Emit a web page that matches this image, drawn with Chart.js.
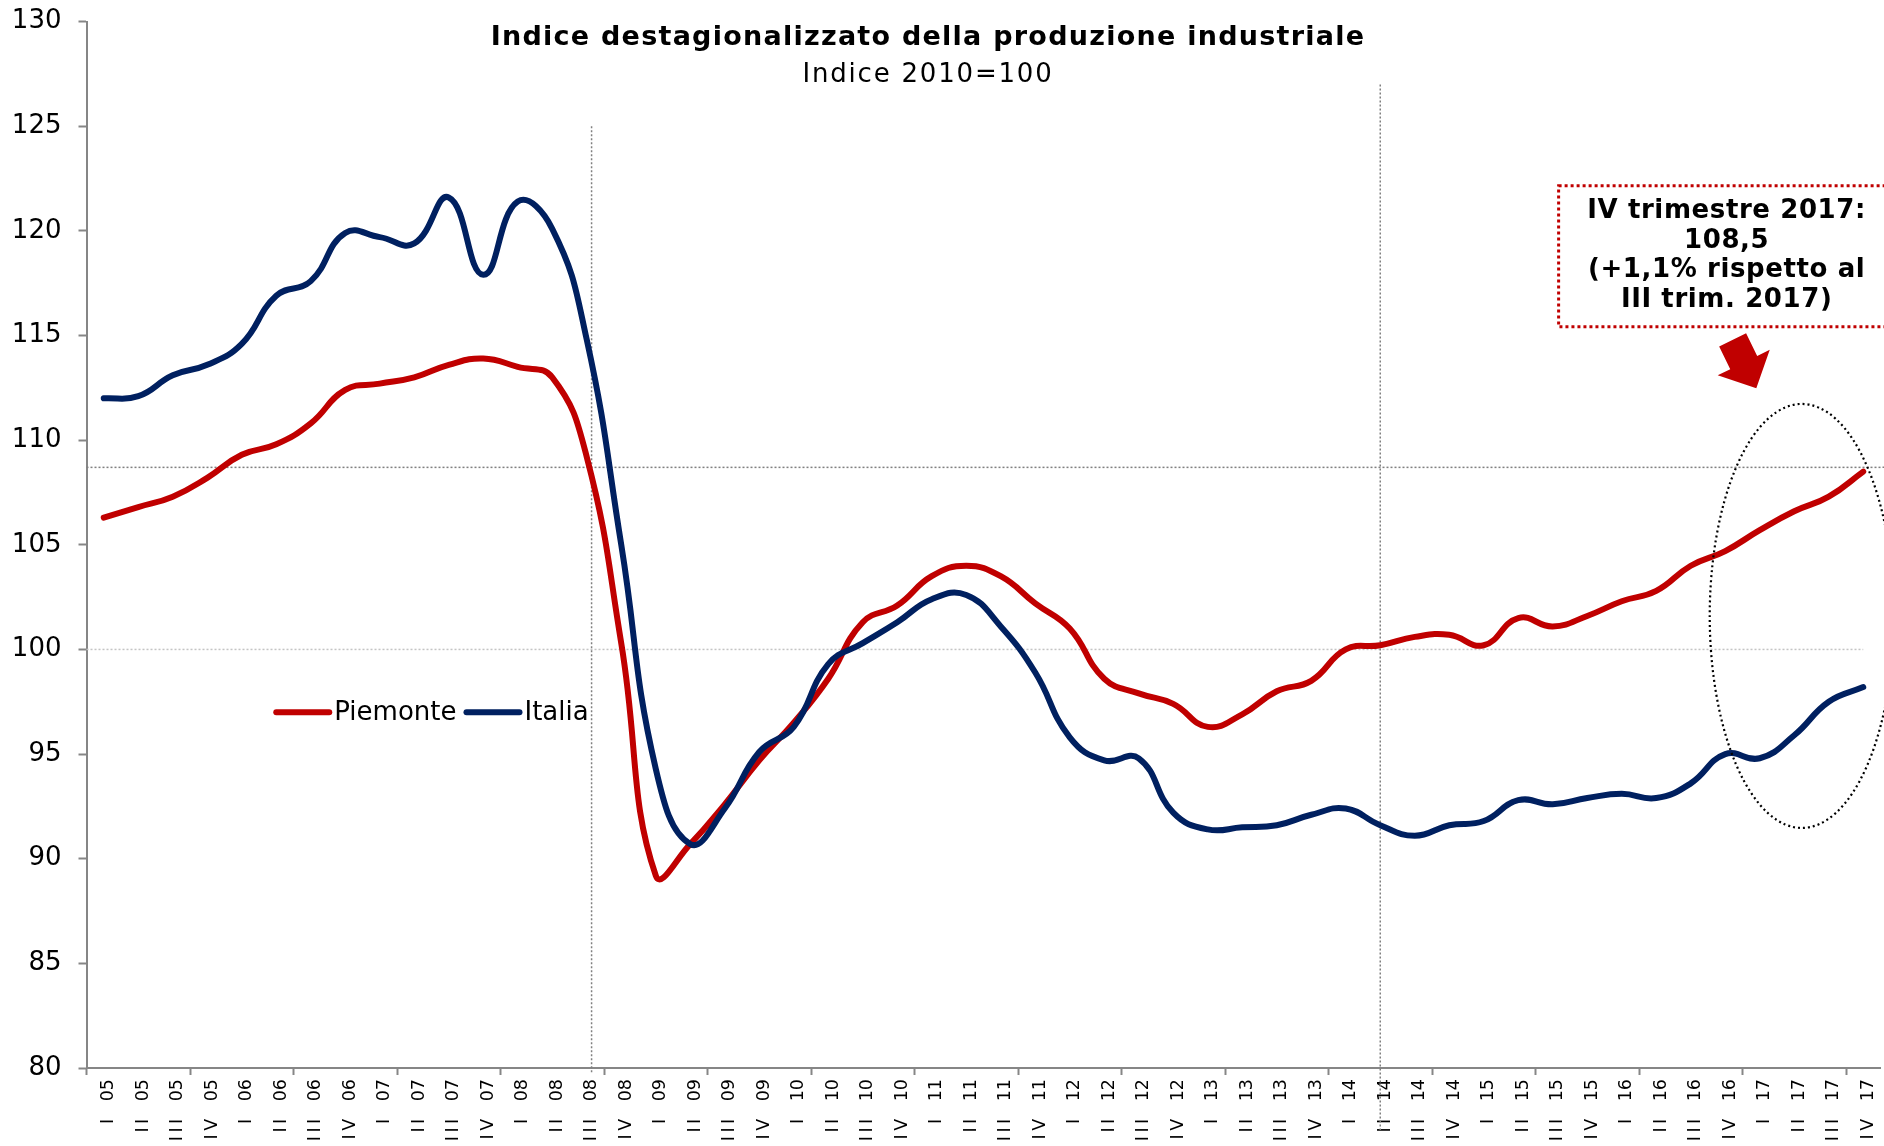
<!DOCTYPE html>
<html>
<head>
<meta charset="utf-8">
<script src="https://cdn.jsdelivr.net/npm/chart.js@4.4.0/dist/chart.umd.min.js"></script>
<style>
  html, body { margin: 0; padding: 0; background: #fff; }
</style>
</head>
<body>
<canvas id="grafico" width="1884" height="1146"></canvas>
<script>
// trimestri dal I 2005 al IV 2017
const trimestri = [
    'I 05', 'II 05', 'III 05', 'IV 05', 'I 06', 'II 06', 'III 06', 'IV 06',
    'I 07', 'II 07', 'III 07', 'IV 07', 'I 08', 'II 08', 'III 08', 'IV 08',
    'I 09', 'II 09', 'III 09', 'IV 09', 'I 10', 'II 10', 'III 10', 'IV 10',
    'I 11', 'II 11', 'III 11', 'IV 11', 'I 12', 'II 12', 'III 12', 'IV 12',
    'I 13', 'II 13', 'III 13', 'IV 13', 'I 14', 'II 14', 'III 14', 'IV 14',
    'I 15', 'II 15', 'III 15', 'IV 15', 'I 16', 'II 16', 'III 16', 'IV 16',
    'I 17', 'II 17', 'III 17', 'IV 17'
];

const piemonte = [
    106.3, 106.8, 107.3, 108.2, 109.3, 109.8, 110.8, 112.4,
    112.7, 113.0, 113.6, 113.9, 113.5, 113.0, 109.2, 100.3,
    89.2, 90.7, 92.6, 94.7, 96.5, 98.6, 101.3, 102.1,
    103.5, 104.0, 103.5, 102.2, 101.0, 98.6, 97.9, 97.4,
    96.3, 96.9, 98.0, 98.5, 100.0, 100.2, 100.6, 100.7,
    100.2, 101.5, 101.1, 101.6, 102.3, 102.8, 104.0, 104.7,
    105.7, 106.6, 107.3, 108.5
];

const italia = [
    112.0, 112.1, 113.1, 113.6, 114.6, 116.9, 117.6, 119.9,
    119.7, 119.4, 121.6, 117.9, 121.4, 120.1, 114.8, 105.0,
    94.3, 90.7, 92.4, 95.1, 96.3, 99.3, 100.3, 101.3,
    102.4, 102.6, 101.1, 98.9, 95.8, 94.7, 94.8, 92.2,
    91.4, 91.5, 91.6, 92.1, 92.4, 91.6, 91.1, 91.6,
    91.8, 92.8, 92.6, 92.9, 93.1, 92.9, 93.6, 95.0,
    94.8, 95.9, 97.5, 98.2
];

const Y_MIN = 80, Y_MAX = 130, Y_STEP = 5;

const titolo = 'Indice destagionalizzato della produzione industriale';
const sottotitolo = 'Indice 2010=100';
const nota = ['IV trimestre 2017:', '108,5', '(+1,1% rispetto al', 'III trim. 2017)'];

const ROSSO = '#C00000';
const BLU = '#002060';
const GRIGIO = '#868686';
const FONT = '"DejaVu Sans"';

Chart.defaults.font.family = FONT;

// posizione in pixel per indice (anche frazionario) di categoria
function xAt(scale, i) {
    const p0 = scale.getPixelForValue(0);
    const p1 = scale.getPixelForValue(1);
    return p0 + i * (p1 - p0);
}

const decorazioni = {
    id: 'decorazioni',
    beforeDatasetsDraw(chart) {
        const {ctx, chartArea: a, scales: {x, y}} = chart;
        ctx.save();
        ctx.lineWidth = 1.5;
        ctx.setLineDash([2, 2]);

        // livello IV 2017
        ctx.strokeStyle = '#808080';
        ctx.beginPath();
        ctx.moveTo(a.left, y.getPixelForValue(108.7));
        ctx.lineTo(chart.width, y.getPixelForValue(108.7));
        ctx.stroke();

        // livello 100
        ctx.strokeStyle = '#c4c4c4';
        ctx.beginPath();
        ctx.moveTo(a.left, y.getPixelForValue(100));
        ctx.lineTo(xAt(x, 51), y.getPixelForValue(100));
        ctx.stroke();

        // verticali
        ctx.strokeStyle = '#808080';
        ctx.beginPath();
        ctx.moveTo(xAt(x, 14.14), y.getPixelForValue(125));
        ctx.lineTo(xAt(x, 14.14), a.bottom + 5);
        ctx.moveTo(xAt(x, 37), y.getPixelForValue(127));
        ctx.lineTo(xAt(x, 37), a.bottom + 62);
        ctx.stroke();
        ctx.restore();
    },
    afterDraw(chart) {
        const {ctx, scales: {x, y}} = chart;
        const step = xAt(x, 1) - xAt(x, 0);
        const unit = y.getPixelForValue(100) - y.getPixelForValue(101);
        ctx.save();

        // titolo
        ctx.fillStyle = '#000';
        ctx.textAlign = 'center';
        ctx.textBaseline = 'alphabetic';
        ctx.font = 'bold 27px ' + FONT;
        ctx.letterSpacing = '1.25px';
        ctx.fillText(titolo, 928, 45);
        ctx.font = '26px ' + FONT;
        ctx.letterSpacing = '1.8px';
        ctx.fillText(sottotitolo, 928, 82);
        ctx.letterSpacing = '0px';

        // ellisse
        ctx.strokeStyle = '#000';
        ctx.lineWidth = 2.2;
        ctx.setLineDash([2, 3]);
        ctx.beginPath();
        ctx.ellipse(xAt(x, 49.22), y.getPixelForValue(101.6), 2.67 * step, 10.13 * unit, 0, 0, Math.PI * 2);
        ctx.stroke();

        // riquadro della nota
        const bx = xAt(x, 42.17);
        const by0 = y.getPixelForValue(122.16);
        const by1 = y.getPixelForValue(115.42);
        ctx.strokeStyle = ROSSO;
        ctx.lineWidth = 3;
        ctx.setLineDash([3, 3]);
        ctx.strokeRect(bx, by0, chart.width + 20 - bx, by1 - by0);
        ctx.setLineDash([]);

        ctx.fillStyle = '#000';
        ctx.font = 'bold 26px ' + FONT;
        ctx.textBaseline = 'middle';
        ctx.letterSpacing = '0.6px';
        const cx = xAt(x, 47.04);
        nota.forEach((riga, k) => ctx.fillText(riga, cx, by0 + 26 + k * 29.5));
        ctx.letterSpacing = '0px';

        // freccia
        const tx = xAt(x, 47.9), ty = y.getPixelForValue(112.48);
        const ang = 63.9 * Math.PI / 180;
        const d = [Math.cos(ang), Math.sin(ang)];
        const n = [d[1], -d[0]];
        const B = [tx - d[0] * 28.6, ty - d[1] * 28.6];
        const S = [B[0] - d[0] * 25.2, B[1] - d[1] * 25.2];
        const pt = (P, k) => [P[0] + n[0] * k, P[1] + n[1] * k];
        const poly = [[tx, ty], pt(B, 29), pt(B, 15), pt(S, 15), pt(S, -15), pt(B, -15), pt(B, -29)];
        ctx.fillStyle = ROSSO;
        ctx.beginPath();
        poly.forEach((p, k) => k ? ctx.lineTo(p[0], p[1]) : ctx.moveTo(p[0], p[1]));
        ctx.closePath();
        ctx.fill();

        // legenda
        let lx = xAt(x, 5);
        const ly = y.getPixelForValue(97);
        ctx.font = '26px ' + FONT;
        ctx.textAlign = 'left';
        ctx.textBaseline = 'middle';
        ctx.lineCap = 'round';
        chart.data.datasets.forEach(ds => {
            ctx.strokeStyle = ds.borderColor;
            ctx.lineWidth = 6;
            ctx.beginPath();
            ctx.moveTo(lx, ly);
            ctx.lineTo(lx + 53, ly);
            ctx.stroke();
            ctx.fillStyle = '#000';
            ctx.fillText(ds.label, lx + 58, ly + 1);
            lx += 58 + ctx.measureText(ds.label).width + 10;
        });
        ctx.restore();
    }
};

new Chart(document.getElementById('grafico'), {
    type: 'line',
    data: {
        labels: trimestri,
        datasets: [
            {
                label: 'Piemonte', data: piemonte, borderColor: ROSSO, order: 1,
                borderWidth: 6, pointRadius: 0, tension: 0.45,
                borderCapStyle: 'round', borderJoinStyle: 'round', fill: false
            },
            {
                label: 'Italia', data: italia, borderColor: BLU, order: 0,
                borderWidth: 6, pointRadius: 0, tension: 0.45,
                borderCapStyle: 'round', borderJoinStyle: 'round', fill: false
            }
        ]
    },
    options: {
        responsive: false,
        animation: false,
        layout: {padding: {top: 21.6, right: 3.5, left: 0, bottom: 0}},
        plugins: {legend: {display: false}, title: {display: false}, tooltip: {enabled: false}},
        scales: {
            x: {
                offset: true,
                grid: {
                    offset: true, drawOnChartArea: false, drawTicks: true, tickLength: 7, tickWidth: 2,
                    tickColor: c => c.index % 3 === 0 ? GRIGIO : 'rgba(0,0,0,0)'
                },
                border: {color: GRIGIO, width: 2},
                ticks: {
                    autoSkip: false, minRotation: 90, maxRotation: 90, padding: 4, labelOffset: 5,
                    color: '#000', font: {size: 17.5},
                    callback(v) {
                        const [r, a] = this.getLabelForValue(v).split(' ');
                        return r.split('').join('\u2009') + '\u2003' + a;
                    }
                },
                afterFit(s) { s.height = 78; s.paddingLeft = 0; s.paddingRight = 0; }
            },
            y: {
                min: Y_MIN, max: Y_MAX,
                grid: {drawOnChartArea: false, tickLength: 8, tickWidth: 2, tickColor: GRIGIO},
                border: {color: GRIGIO, width: 2},
                ticks: {stepSize: Y_STEP, padding: 17, color: '#000', font: {size: 26}},
                afterFit(s) { s.width = 86.5; s.paddingTop = 0; s.paddingBottom = 0; }
            }
        }
    },
    plugins: [decorazioni]
});
</script>
</body>
</html>
